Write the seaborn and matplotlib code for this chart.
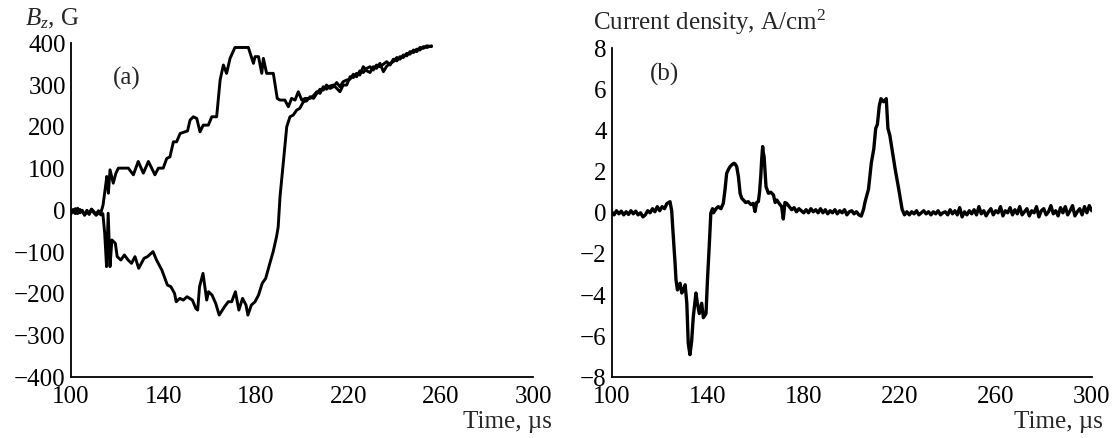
import numpy as np
import pandas as pd
import matplotlib
matplotlib.use("Agg")
import matplotlib.pyplot as plt
import seaborn as sns

# ---------------- data: panel (a) Bz, G ----------------
upper_t = [100, 101, 102, 103, 104, 105, 106, 107, 108, 109, 110, 111, 112, 113, 114, 115, 115.6, 116.3, 117,
           118.4, 119.5, 120.6, 124.9, 127.1, 129.2, 131.4, 133.6, 136.4, 137.9, 140, 141.5, 142.9, 144.4,
           145.8, 147.3, 149.4, 150.5, 151.6, 153, 154.5, 155.9, 157.3, 159.5, 161, 163.1, 164.6, 166,
           167.4, 168.9, 171, 176.8, 179, 179.7, 181.2, 182.6, 183.3, 184.7, 187.6, 189.3, 190.5, 192.6,
           194.1, 195.5, 197, 198.4, 199.9, 201.3, 203.5, 205, 206.4, 207.8, 209.2, 210.6, 212.2, 213.6,
           215, 216.4, 217.8, 219.3, 220.8, 222.2, 223.6, 225, 226.5, 228, 229.4, 230.8, 232.2, 233.7,
           235.2, 236.6, 238.1, 239.5, 241, 242.4, 243.8, 245.3, 246.7, 248.2, 249.6, 251, 252.5, 254, 256]
upper_b = [0, -5, 4, -8, 2, -4, -10, 0, -7, 3, -3, -9, -1, -7, 13, 55, 81, 41, 97,
           65, 88, 101, 101, 85, 117, 89, 117, 85, 101, 101, 124, 128, 164,
           164, 184, 188, 190, 216, 224, 220, 188, 204, 204, 224, 224, 312, 348,
           328, 364, 390, 390, 352, 368, 368, 328, 364, 328, 328, 268, 264, 264,
           248, 268, 264, 284, 264, 268, 268, 275, 284, 280, 296, 290, 298, 300,
           292, 284, 300, 300, 320, 318, 328, 324, 344, 334, 330, 344, 340, 352,
           332, 345, 352, 356, 366, 362, 372, 370, 380, 378, 386, 384, 392, 390, 394]

lower_t = [100, 101, 102, 103, 104, 105, 106, 107, 108, 109, 110, 111, 112, 113.1, 113.9, 114.7, 115.5,
           116.2, 117, 117.8, 119.3, 120.1, 121.7, 123.2, 124.8, 126.3, 127.8, 129.4, 131.7, 133.2,
           135.6, 137.1, 139.4, 141.8, 143.3, 144.9, 145.6, 147.2, 148.7, 150.3, 152.6, 154.1, 154.9,
           155.7, 157.2, 158.8, 159.6, 161.1, 162.7, 164.2, 166.5, 168.1, 169.6, 171.2, 172.7, 174.3,
           175.8, 176.6, 178.1, 179.7, 181.2, 182.8, 184.3, 186.2, 187.5, 189, 189.7, 190.5, 191.9,
           193.4, 194.8, 196.2, 197.7, 199, 200.6, 202, 203.5, 205, 206.4, 207.8, 209.2, 210.6, 212.2,
           213.6, 215, 216.4, 217.8, 219.3, 220.8, 222.2, 223.6, 225, 226.5, 228, 229.4, 230.8, 232.2,
           233.7, 235.2, 236.6, 238.1, 239.5, 241, 242.4, 243.8, 245.3, 246.7, 248.2, 249.6, 251, 252.5,
           254, 256]
lower_b = [-10, 2, -8, 5, -6, 0, -12, -4, -10, 2, -6, -12, -6, -11, -8, -55, -135,
           -7, -135, -71, -79, -111, -119, -107, -119, -127, -111, -139, -115, -111,
           -99, -119, -143, -179, -183, -199, -219, -211, -215, -207, -215, -235, -239,
           -183, -151, -215, -195, -203, -223, -251, -231, -219, -219, -195, -239, -211,
           -227, -251, -227, -219, -203, -175, -163, -125, -100, -63, -40, 33, 113,
           200, 224, 228, 240, 244, 260, 262, 272, 268, 280, 290, 288, 300, 292,
           296, 306, 296, 308, 312, 314, 326, 320, 334, 330, 340, 344, 336, 348,
           344, 350, 356, 348, 362, 358, 368, 366, 376, 374, 384, 380, 390, 388,
           394, 392]

# ---------------- data: panel (b) current density, A/cm2 ----------------
cur_t = [100, 101, 102, 103, 104, 105, 106, 107, 108, 109, 110, 111, 112, 113, 114, 115, 116, 117, 118,
         119, 120, 121, 122, 123, 124.3, 125, 125.4, 126.4, 126.8, 127.4, 128, 128.5, 129.2, 129.9,
         130.6, 131.3, 131.9, 132.6, 133.3, 134, 135.1, 135.7, 136.5, 137.5, 138.2, 139.3, 139.9,
         140.7, 141.3, 142, 142.4, 143.5, 144.4, 145.5, 146.5, 147.2, 147.9, 148.6, 149.3, 150.2,
         151, 151.6, 152.1, 152.8, 153.5, 154.2, 154.9, 155.8, 156.9, 158, 159, 159.7, 160.4, 161.1,
         161.6, 162.1, 162.5, 162.9, 163.2, 163.5, 164.3, 165.3, 166.3, 167.4, 168.1, 168.8, 169.8,
         170.8, 171.5, 172.2, 172.9, 174, 175, 176, 177, 178, 179, 180, 181, 182, 183, 184, 185, 186,
         187, 188, 189, 190, 191, 192, 193, 194, 195, 196, 197, 198, 199, 200, 201, 202, 203, 204,
         205, 205.5, 207, 208.2, 209.2, 210, 210.7, 211.5, 212.2, 213.3, 214.4, 215.1, 215.9, 217,
         218.1, 219.6, 221, 222, 223, 224, 225, 226, 227, 228, 229, 230, 231, 232, 233, 234, 235, 236,
         237, 238, 239, 240, 241, 242, 243, 244, 245, 246, 247, 248, 249, 250, 251, 252, 253, 254,
         255, 256, 257, 258, 259, 260, 261, 262, 263, 264, 265, 266, 267, 268, 269, 270, 271, 272,
         273, 274, 275, 276, 277, 278, 279, 280, 281, 282, 283, 284, 285, 286, 287, 288, 289, 290,
         291, 292, 293, 294, 295, 296, 297, 298, 299, 300]
cur_j = [0.05, -0.1, 0.1, -0.05, 0.08, -0.1, 0.05, -0.08, 0.1, -0.05, 0.08, -0.1, 0.0, -0.2, -0.1, 0.1,
         0.0, 0.2, 0.05, 0.3, 0.1, 0.3, 0.2, 0.45, 0.54, 0.1, -0.67, -2.45, -3.27, -3.75, -3.5, -3.43,
         -3.9, -3.75, -3.5, -4.4, -6.35, -6.9, -6.26, -5.05, -3.9, -4.4, -4.9, -4.4, -5.1, -4.9, -3.27,
         -1.48, -0.02, 0.2, 0.0, 0.2, 0.3, 0.2, 0.46, 1.11, 1.92, 2.1, 2.24, 2.35,
         2.41, 2.35, 2.24, 1.76, 0.95, 0.7, 0.62, 0.5, 0.54, 0.4, 0.46, 0.06, 0.5, 0.54,
         1.0, 1.76, 2.6, 3.22, 2.9, 2.73, 1.27, 0.95, 1.0, 0.87, 0.5, 0.62, 0.45,
         0.3, -0.3, 0.5, 0.46, 0.3, 0.15, 0.25, 0.05, 0.2, 0.1, 0.0, 0.15, 0.0, 0.2, 0.05, 0.15, 0.0,
         0.2, 0.0, 0.15, -0.05, 0.1, 0.0, 0.15, -0.05, 0.1, 0.0, 0.15, -0.1, 0.05, 0.1, -0.05, 0.05, -0.1, -0.16,
         0.2, 0.5, 1.15, 2.45, 3.1, 4.1, 4.3, 5.2, 5.55, 5.4, 5.55, 4.1, 3.76, 2.94,
         2.13, 1.15, 0.17, -0.1, 0.05, -0.1, 0.05, -0.05, 0.1, -0.1, 0.0, 0.1, -0.05, 0.05, -0.1, 0.05, -0.05, 0.1,
         -0.1, 0.0, 0.05, -0.1, 0.15, -0.05, 0.1, -0.1, 0.25, -0.2, 0.05, -0.1, 0.1, -0.05, 0.15, -0.1, 0.3, -0.05,
         0.1, -0.15, 0.05, 0.2, -0.1, 0.1, 0.0, 0.3, -0.15, 0.1, 0.0, 0.25, -0.1, 0.15, -0.05, 0.3, -0.1, 0.05,
         0.2, -0.15, 0.1, 0.0, 0.3, -0.2, 0.1, 0.2, -0.1, 0.05, 0.35, -0.05, 0.1, -0.15, 0.25, 0.0, 0.3, -0.1,
         0.1, 0.35, -0.15, 0.05, 0.2, -0.1, 0.3, 0.0, 0.35, 0.1]

x_major = [100, 140, 180, 220, 260, 300]
x_minor = [120, 160, 200, 240, 280]
a_yticks = [-400, -300, -200, -100, 0, 100, 200, 300, 400]
b_yticks = [-8, -6, -4, -2, 0, 2, 4, 6, 8]

# ---------------- style ----------------
sns.set_style("white")
plt.rcParams["font.family"] = ["Liberation Serif", "DejaVu Serif"]
plt.rcParams["mathtext.fontset"] = "custom"
plt.rcParams["mathtext.rm"] = "Liberation Serif"
plt.rcParams["mathtext.it"] = "Liberation Serif:italic"
plt.rcParams["axes.unicode_minus"] = True
FS = 18

fig = plt.figure(figsize=(11.15, 4.38), dpi=100)
W, H = 1115.0, 438.0
axa = fig.add_axes([70.7 / W, 1 - 377.3 / H, (533.3 - 70.7) / W, (377.3 - 43.3) / H])
axb = fig.add_axes([611.7 / W, 1 - 377.3 / H, (1091.7 - 611.7) / W, (377.3 - 48.3) / H])

dfu = pd.DataFrame({"t": upper_t, "B": upper_b})
dfl = pd.DataFrame({"t": lower_t, "B": lower_b})
dfc = pd.DataFrame({"t": cur_t, "J": cur_j})

sns.lineplot(data=dfu, x="t", y="B", ax=axa, color="black", lw=2.1, sort=False, estimator=None)
sns.lineplot(data=dfl, x="t", y="B", ax=axa, color="black", lw=2.1, sort=False, estimator=None)
sns.lineplot(data=dfc, x="t", y="J", ax=axb, color="black", lw=2.4, sort=False, estimator=None)

for ax, yt, ylim in [(axa, a_yticks, (-400, 400)), (axb, b_yticks, (-8, 8))]:
    ax.set_xlim(100, 300)
    ax.set_ylim(*ylim)
    ax.set_xticks(x_major)
    ax.set_xticks(x_minor, minor=True)
    ax.set_yticks(yt)
    ax.tick_params(axis="both", which="both", direction="in", length=7.2, width=1.0,
                   labelsize=FS, color="black", labelcolor="black")
    ax.tick_params(axis="x", which="both", pad=6)
    ax.tick_params(axis="y", which="both", pad=3.5)
    sns.despine(ax=ax)
    for s in ["left", "bottom"]:
        ax.spines[s].set_linewidth(1.3)
        ax.spines[s].set_color("black")
    ax.set_facecolor("white")

axa.set_xlabel("Time, \u00b5s", fontsize=FS, ha="right", va="center")
axa.xaxis.set_label_coords(1.04, -0.133)
axb.set_xlabel("Time, \u00b5s", fontsize=FS, ha="right", va="center")
axb.xaxis.set_label_coords(1.023, -0.135)

axa.set_ylabel("$B_z$, G", fontsize=FS, rotation=0, ha="left", va="baseline")
axa.yaxis.set_label_coords(-0.0988, 1.055)
axb.set_ylabel("Current density, A/cm$^2$", fontsize=FS, rotation=0, ha="left", va="baseline")
axb.yaxis.set_label_coords(-0.0383, 1.0556)

axa.text(0.122, 0.896, "(a)", transform=axa.transAxes, fontsize=FS, ha="center", va="center")
axb.text(0.111, 0.919, "(b)", transform=axb.transAxes, fontsize=FS, ha="center", va="center")

fig.savefig("out.png", dpi=100, facecolor="white")
